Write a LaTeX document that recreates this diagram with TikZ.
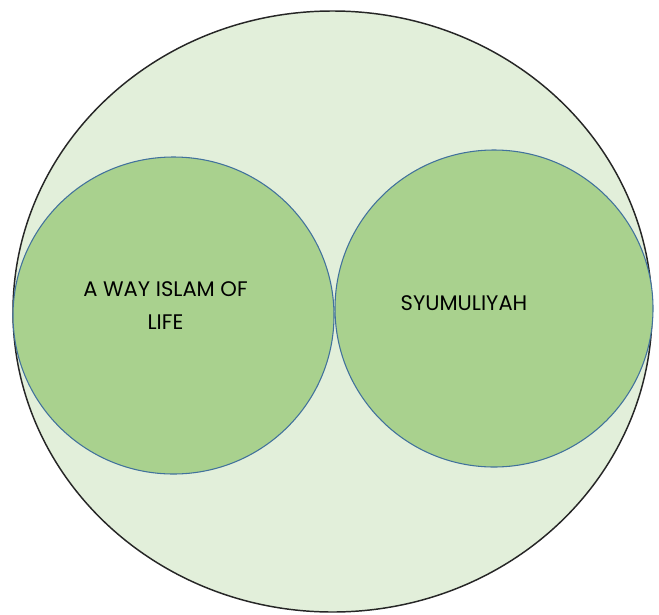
\documentclass[tikz,border=0pt]{standalone}
\usepackage{fontspec}
\setmainfont{Poppins}
\usetikzlibrary{positioning,shapes.geometric}
\definecolor{verdeclaro}{HTML}{E2EFDA}
\definecolor{verde}{HTML}{A9D18E}
\definecolor{azul}{HTML}{41719C}
\definecolor{gris}{HTML}{262626}
\begin{document}
\begin{tikzpicture}[x=0.75pt, y=-0.75pt, font=\fontsize{15.8}{24.75}\selectfont,
      c/.style={ellipse, draw=azul, fill=verde, line width=0.8pt, inner sep=0pt},
      t/.style={align=center, inner sep=0pt}]
    \useasboundingbox (0,0) rectangle (659,614);
    % outer
    \node[ellipse, draw=gris, fill=verdeclaro, line width=1.1pt, inner sep=0pt,
          minimum width=639*0.75pt, minimum height=601*0.75pt] (todo) at (332.5,311.5) {};
    % inner
    \node[c, minimum width=321*0.75pt, minimum height=317*0.75pt] (vida) at (173.5,315.5) {};
    \node[c, minimum width=318*0.75pt, minimum height=317*0.75pt] (syu) at (494,308.5) {};
    \node[t] (vidatxt) at (165.5,306) {A WAY ISLAM OF\\LIFE};
    \node[t] (syutxt) at (464,303) {SYUMULIYAH};
\end{tikzpicture}
\end{document}
